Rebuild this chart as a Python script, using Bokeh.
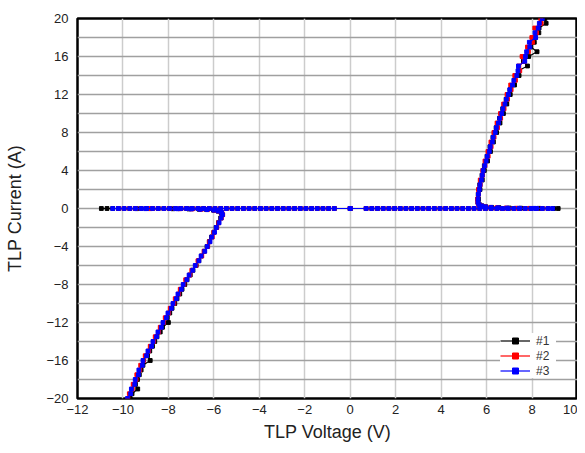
from bokeh.plotting import figure
from bokeh.models import Range1d, FixedTicker, Legend, LegendItem
from bokeh.embed import file_html
from bokeh.resources import INLINE

# ---------------- data ----------------
x_ticks = [-12, -10, -8, -6, -4, -2, 0, 2, 4, 6, 8, 10]
y_ticks = [-20, -16, -12, -8, -4, 0, 4, 8, 12, 16, 20]
y_grid = [-20, -18, -16, -14, -12, -10, -8, -6, -4, -2, 0, 2, 4, 6, 8, 10, 12, 14, 16, 18, 20]

series_names = ["#1", "#2", "#3"]
series_colors = ["#000000", "#ff0000", "#0000ff"]

# pre-trigger sweep points (current ~ 0 A)
zero_neg_v = [-0.7, -0.95, -1.2, -1.45, -1.7, -1.95, -2.2, -2.45, -2.7, -2.95, -3.2, -3.45,
              -3.7, -3.95, -4.2, -4.45, -4.7, -4.95, -5.2, -5.45, -5.7, -5.95, -6.2, -6.45,
              -6.7, -6.95, -7.2, -7.45, -7.7, -7.95, -8.2, -8.45, -8.7, -8.95, -9.2, -9.45,
              -9.7, -9.95, -10.2]
zero_pos_v = [0.7, 0.95, 1.2, 1.45, 1.7, 1.95, 2.2, 2.45, 2.7, 2.95, 3.2, 3.45, 3.7, 3.95,
              4.2, 4.45, 4.7, 4.95, 5.2, 5.45, 5.7, 5.95, 6.2, 6.45, 6.7, 6.95, 7.2, 7.45,
              7.7, 7.95, 8.2, 8.45, 8.7]
trigger_neg_v = [[-10.45, -10.7, -10.95], [], [-10.45]]
trigger_pos_v = [[8.95, 9.15], [], [8.9]]

# post-snapback currents (A)
pos_i = [0.02, 0.03, 0.05, 0.08, 0.12, 0.18, 0.28, 0.42, 0.65,
         1.0, 1.5, 2.0, 2.5, 3.0, 3.5, 4.0, 4.5, 5.0, 5.5, 6.0, 6.5, 7.0, 7.5, 8.0, 8.5,
         9.0, 9.5, 10.0, 10.5, 11.0, 11.5, 12.0, 12.5, 13.0, 13.5, 14.0, 14.5, 15.0, 15.5,
         16.0, 16.5, 17.0, 17.5, 18.0, 18.5, 19.0, 19.5, 20.0]
neg_i = [-0.02, -0.03, -0.05, -0.08, -0.12, -0.18, -0.28, -0.42, -0.65,
         -1.0, -1.5, -2.0, -2.5, -3.0, -3.5, -4.0, -4.5, -5.0, -5.5, -6.0, -6.5, -7.0, -7.5,
         -8.0, -8.5, -9.0, -9.5, -10.0, -10.5, -11.0, -11.5, -12.0, -12.5, -13.0, -13.5,
         -14.0, -14.5, -15.0, -15.5, -16.0, -16.5, -17.0, -17.5, -18.0, -18.5, -19.0,
         -19.5, -20.0]

# post-snapback voltages (V), positive pulses
pos_v1 = [8.3, 7.5, 7.0, 6.55, 6.22, 5.97, 5.8, 5.68, 5.63,
          5.64, 5.63, 5.71, 5.70, 5.81, 5.80, 5.90, 5.90, 6.04, 6.02, 6.17, 6.15, 6.30,
          6.28, 6.44, 6.42, 6.59, 6.57, 6.74, 6.71, 6.89, 6.86, 7.04, 7.03, 7.23, 7.22,
          7.43, 7.40, 7.80, 7.62, 7.85, 8.22, 7.95, 8.10, 8.14, 8.30, 8.31, 8.62, 8.56]
pos_v2 = [7.9, 7.3, 6.85, 6.45, 6.18, 5.93, 5.76, 5.65, 5.61,
          5.60, 5.64, 5.64, 5.72, 5.72, 5.82, 5.83, 5.93, 5.93, 6.07, 6.06, 6.20, 6.19,
          6.33, 6.32, 6.48, 6.46, 6.62, 6.61, 6.77, 6.75, 6.92, 6.90, 7.08, 7.06, 7.27,
          7.24, 7.46, 7.42, 7.66, 7.56, 7.84, 7.80, 8.02, 7.99, 8.20, 8.12, 8.40, 8.38]
pos_v3 = [8.1, 7.45, 6.9, 6.5, 6.2, 5.95, 5.78, 5.66, 5.62,
          5.62, 5.64, 5.68, 5.71, 5.77, 5.81, 5.85, 5.92, 5.98, 6.03, 6.12, 6.16, 6.25,
          6.29, 6.38, 6.43, 6.52, 6.58, 6.67, 6.72, 6.81, 6.87, 6.96, 7.02, 7.14, 7.20,
          7.33, 7.38, 7.40, 7.68, 7.71, 7.76, 7.90, 7.88, 8.16, 8.13, 8.27, 8.32, 8.45]

# post-snapback voltages (V), negative pulses
neg_v1 = [-9.4, -7.8, -7.1, -6.65, -6.32, -6.02, -5.82, -5.68, -5.64,
          -5.70, -5.80, -5.90, -6.00, -6.10, -6.20, -6.30, -6.42, -6.55, -6.66, -6.78,
          -6.92, -7.04, -7.18, -7.28, -7.40, -7.50, -7.62, -7.72, -7.84, -7.94, -8.05,
          -8.00, -8.26, -8.36, -8.50, -8.60, -8.70, -8.82, -8.92, -8.80, -9.12, -9.20,
          -9.28, -9.36, -9.45, -9.35, -9.60, -9.68]
neg_v2 = [-8.8, -7.5, -6.95, -6.55, -6.28, -5.98, -5.78, -5.65, -5.61,
          -5.67, -5.79, -5.87, -6.00, -6.07, -6.20, -6.27, -6.43, -6.53, -6.70, -6.79,
          -6.97, -7.06, -7.24, -7.32, -7.48, -7.55, -7.70, -7.76, -7.92, -7.99, -8.14,
          -8.21, -8.36, -8.43, -8.58, -8.65, -8.80, -8.87, -9.02, -9.09, -9.22, -9.26,
          -9.39, -9.42, -9.55, -9.59, -9.72, -9.78]
neg_v3 = [-9.0, -7.6, -7.0, -6.6, -6.3, -6.0, -5.8, -5.66, -5.62,
          -5.68, -5.77, -5.89, -5.97, -6.09, -6.17, -6.29, -6.40, -6.56, -6.66, -6.82,
          -6.93, -7.09, -7.19, -7.35, -7.43, -7.58, -7.65, -7.80, -7.87, -8.02, -8.09,
          -8.24, -8.31, -8.46, -8.52, -8.68, -8.74, -8.90, -8.96, -9.12, -9.15, -9.30,
          -9.32, -9.46, -9.48, -9.63, -9.66, -9.80]

pos_v = [pos_v1, pos_v2, pos_v3]
neg_v = [neg_v1, neg_v2, neg_v3]

# ---------------- figure ----------------
FONT = "Liberation Sans"
p = figure(width=577, height=445, output_backend="svg", toolbar_location=None,
           x_range=Range1d(-12, 10), y_range=Range1d(-20, 20),
           min_border_left=77, min_border_right=0, min_border_top=18, min_border_bottom=47,
           x_axis_label="TLP Voltage (V)", y_axis_label="TLP Current (A)")
p.background_fill_color = "white"
p.border_fill_color = "white"
p.outline_line_color = "black"
p.outline_line_width = 2.5

p.xaxis.ticker = FixedTicker(ticks=x_ticks)
p.yaxis.ticker = FixedTicker(ticks=y_ticks)
p.xgrid.ticker = FixedTicker(ticks=x_ticks)
p.ygrid.ticker = FixedTicker(ticks=y_grid)
p.xgrid.grid_line_color = "#cccccc"
p.xgrid.grid_line_width = 1.5
p.ygrid.grid_line_color = "#a0a0a0"
p.ygrid.grid_line_width = 1.5

for ax in (p.xaxis, p.yaxis):
    ax.axis_line_color = None
    ax.major_tick_line_color = None
    ax.minor_tick_line_color = None
    ax.major_tick_out = 0
    ax.major_tick_in = 0
    ax.major_label_text_font = FONT
    ax.major_label_text_font_size = "13px"
    ax.major_label_text_color = "#222222"
    ax.axis_label_text_font = FONT
    ax.axis_label_text_font_size = "18px"
    ax.axis_label_text_font_style = "normal"
    ax.axis_label_text_color = "#222222"
p.xaxis.major_label_standoff = 6
p.yaxis.major_label_standoff = 9
p.xaxis.axis_label_standoff = 5
p.yaxis.axis_label_standoff = 18

items = []
for k in range(3):
    c = series_colors[k]
    rs = []
    # positive sweep
    xs_p = [0.0] + zero_pos_v + trigger_pos_v[k] + pos_v[k]
    ys_p = [0.0] * (1 + len(zero_pos_v) + len(trigger_pos_v[k])) + pos_i
    # negative sweep
    xs_n = [0.0] + zero_neg_v + trigger_neg_v[k] + neg_v[k]
    ys_n = [0.0] * (1 + len(zero_neg_v) + len(trigger_neg_v[k])) + neg_i
    for xs, ys in ((xs_p, ys_p), (xs_n, ys_n)):
        l = p.line(xs, ys, line_color=c, line_width=1.2)
        s = p.scatter(xs, ys, marker="square", size=3.8, fill_color=c, line_color=c)
        rs.extend([l, s])
    items.append(LegendItem(label=series_names[k], renderers=rs[:2]))

legend = Legend(items=items, location=(423, 20), border_line_color=None,
                background_fill_color="white", background_fill_alpha=1.0,
                label_text_font=FONT, label_text_font_size="12px", label_text_color="#333333",
                glyph_width=30, glyph_height=15, label_height=15, spacing=0,
                padding=4, margin=0, label_standoff=6)
p.add_layout(legend)

open("out.html", "w").write(file_html(p, INLINE))
